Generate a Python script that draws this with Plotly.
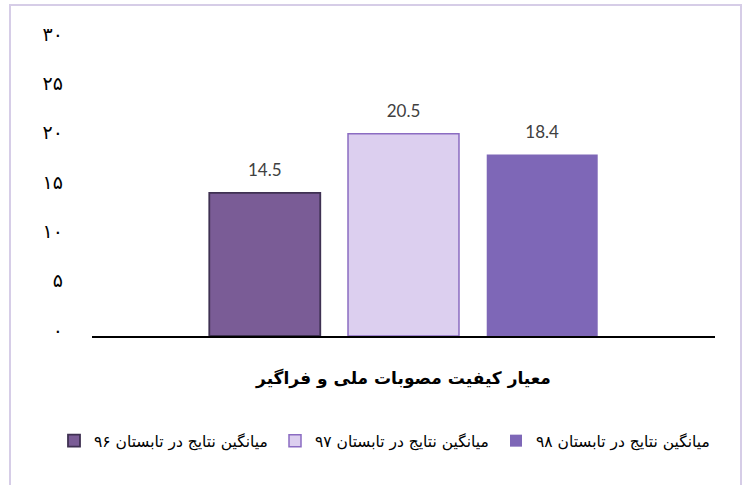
import plotly.graph_objects as go

category = ["معیار کیفیت مصوبات ملی و فراگیر"]
series_names = ["میانگین نتایج در تابستان ۹۶", "میانگین نتایج در تابستان ۹۷", "میانگین نتایج در تابستان ۹۸"]
values_96 = [14.5]
values_97 = [20.5]
values_98 = [18.4]
y_tickvals = [0, 5, 10, 15, 20, 25, 30]
y_ticktext = ["۰", "۵", "۱۰", "۱۵", "۲۰", "۲۵", "۳۰"]

fills = ["#7A5C96", "#DCCFEF", "#7E67B7"]
outlines = ["#3F3152", "#8B6CC2", "#7E67B7"]
outline_w = [1.8, 1.5, 0]

FA = "DejaVu Sans, sans-serif"

fig = go.Figure()
for name, vals, fc, lc, lw in zip(series_names, [values_96, values_97, values_98], fills, outlines, outline_w):
    fig.add_trace(go.Bar(
        x=category, y=vals, name=name,
        marker=dict(color=fc, line=dict(color=lc, width=lw)),
        text=[f"<span style='font-size:17px'>{v}</span><br> " for v in vals], textposition="outside",
        textfont=dict(family="Lato, Open Sans, sans-serif", size=9, color="#404040"),
        cliponaxis=False,
    ))

fig.update_layout(
    width=746, height=485, autosize=False,
    margin=dict(l=92, r=31, t=40, b=149),
    paper_bgcolor="white", plot_bgcolor="white",
    barmode="group", bargap=0.332, bargroupgap=0.2,
    font=dict(family=FA, color="#000000"),
    showlegend=True,
    legend=dict(orientation="h", x=(54 - 92) / 623, xanchor="left",
                y=-0.355, yanchor="middle", entrywidth=176, entrywidthmode="pixels",
                font=dict(size=15.5, color="#000000", family=FA), traceorder="normal",
                itemclick=False),
    xaxis=dict(showline=True, linecolor="#000000", linewidth=2, ticks="",
               tickfont=dict(size=17, color="#000000", family=FA),
               ticklabelstandoff=26, showgrid=False, zeroline=False),
    yaxis=dict(range=[0, 30], tickvals=y_tickvals, ticktext=y_ticktext, showgrid=False,
               zeroline=False, showline=False, ticks="", ticklabelstandoff=28,
               ticklabelshift=-6,
               tickfont=dict(size=19, color="#000000", family=FA)),
)
fig.update_xaxes(tickprefix="<b>", ticksuffix="</b>")

fig.add_shape(type="rect", xref="paper", yref="paper",
              x0=(10 - 92) / 623, x1=(741 - 92) / 623,
              y0=(336 - 495) / 296, y1=(336 - 5) / 296,
              line=dict(color="#D6CDE7", width=2), fillcolor="rgba(0,0,0,0)", layer="below")

fig.write_html("out.html", config={"displayModeBar": False},
               post_script="document.body.style.margin='0';")
